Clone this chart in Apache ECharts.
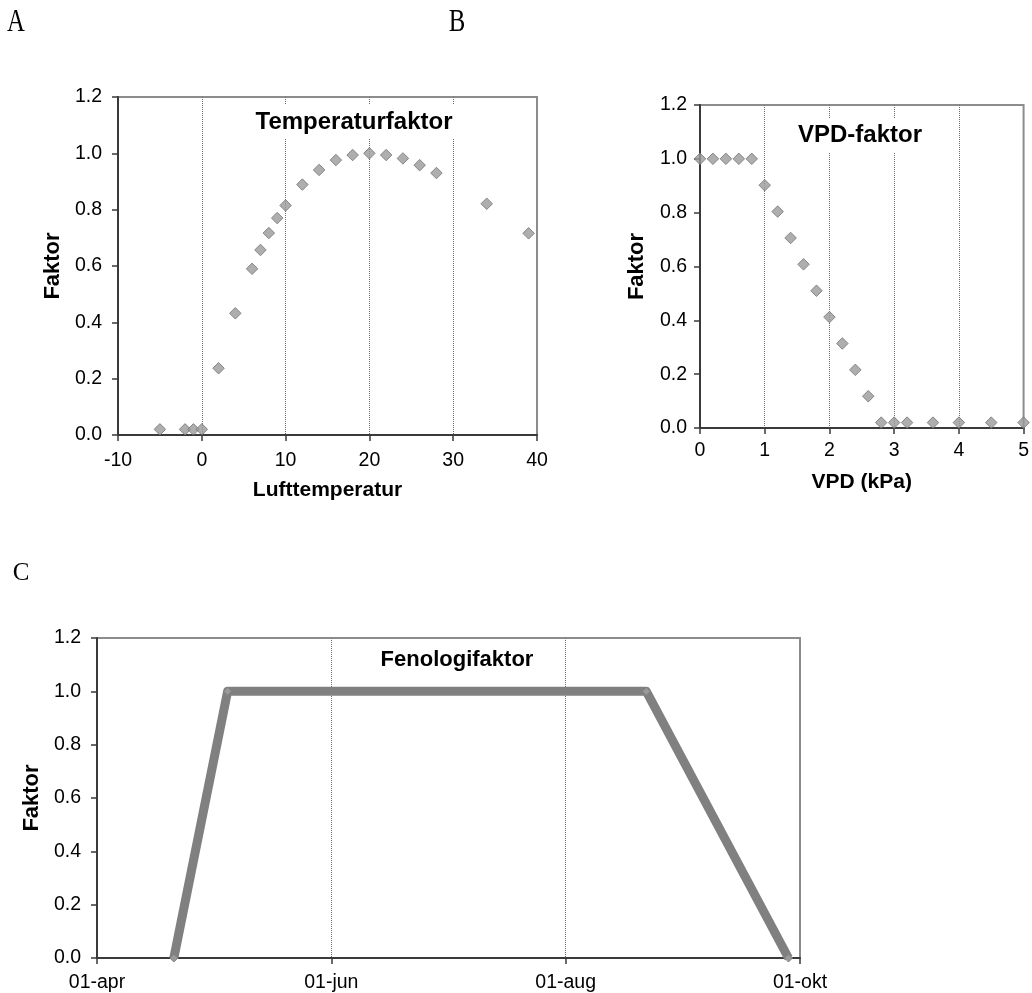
<!DOCTYPE html>
<html>
<head>
<meta charset="utf-8">
<script src="https://cdn.jsdelivr.net/npm/echarts@6/dist/echarts.min.js"></script>
<style>
html,body{margin:0;padding:0;background:#fff;}
#chart{width:1032px;height:993px;}
</style>
</head>
<body>
<div id="chart"></div>
<script>
// ---- Data ----
var tempX = [-5, -2, -1, 0, 2, 4, 6, 7, 8, 9, 10, 12, 14, 16, 18, 20, 22, 24, 26, 28, 34, 39];
var tempY = [0.02, 0.02, 0.02, 0.02, 0.237, 0.432, 0.59, 0.657, 0.717, 0.77, 0.815, 0.889, 0.941, 0.976, 0.994, 1.0, 0.994, 0.982, 0.958, 0.93, 0.821, 0.716];

var vpdX = [0, 0.2, 0.4, 0.6, 0.8, 1.0, 1.2, 1.4, 1.6, 1.8, 2.0, 2.2, 2.4, 2.6, 2.8, 3.0, 3.2, 3.6, 4.0, 4.5, 5.0];
var vpdY = [1, 1, 1, 1, 1, 0.902, 0.804, 0.706, 0.608, 0.51, 0.412, 0.314, 0.216, 0.118, 0.02, 0.02, 0.02, 0.02, 0.02, 0.02, 0.02];

var seasonStart = '04-01';
var phenoDates = ['04-21', '05-05', '08-22', '09-28'];
var phenoY = [0, 1, 1, 0];
var phenoTickDates = ['04-01', '06-01', '08-01', '10-01'];
var phenoTickLabels = ['01-apr', '01-jun', '01-aug', '01-okt'];

var titles = ['Temperaturfaktor', 'VPD-faktor', 'Fenologifaktor'];
var panelLetters = ['A', 'B', 'C'];

// ---- Helpers ----
function dayOf(md) {
  var p = md.split('-');
  var s = seasonStart.split('-');
  return Math.round((Date.UTC(2001, +p[0] - 1, +p[1]) - Date.UTC(2001, +s[0] - 1, +s[1])) / 86400000);
}
var phenoDays = phenoDates.map(dayOf);
var tickDays = phenoTickDates.map(dayOf);
var tickStep = tickDays[1] - tickDays[0];

function zip(a, b) { return a.map(function (v, i) { return [v, b[i]]; }); }

var FONT = '"Liberation Sans", Arial, Helvetica, sans-serif';
var AXIS_DARK = '#3a3a3a';
var GRID_DOT = '#6a6a6a';
var BORDER = '#8c8c8c';
var TICK_FS = 19.5;

function valAxisX(gridIndex, min, max, interval, name, nameGap, labelMargin, fmt) {
  return {
    type: 'value', gridIndex: gridIndex, min: min, max: max, interval: interval,
    name: name, nameLocation: 'middle', nameGap: nameGap,
    nameTextStyle: { fontFamily: FONT, fontSize: 21, fontWeight: 'bold', color: '#000' },
    axisLine: { show: true, onZero: false, lineStyle: { color: AXIS_DARK, width: 2 } },
    axisTick: { show: true, inside: false, length: 6, lineStyle: { color: AXIS_DARK, width: 1.5 } },
    axisLabel: { show: true, margin: labelMargin, fontFamily: FONT, fontSize: TICK_FS, color: '#000', formatter: fmt },
    splitLine: { show: true, showMinLine: false, showMaxLine: false, lineStyle: { color: GRID_DOT, width: 1, type: [1, 1] } }
  };
}
function valAxisY(gridIndex, name, nameGap, labelMargin) {
  return {
    type: 'value', gridIndex: gridIndex, min: 0, max: 1.2, interval: 0.2,
    name: name, nameLocation: 'middle', nameGap: nameGap,
    nameTextStyle: { fontFamily: FONT, fontSize: 22, fontWeight: 'bold', color: '#000' },
    axisLine: { show: true, onZero: false, lineStyle: { color: AXIS_DARK, width: 2 } },
    axisTick: { show: true, inside: false, length: 6, lineStyle: { color: AXIS_DARK, width: 1.5 } },
    axisLabel: { show: true, margin: labelMargin, fontFamily: FONT, fontSize: TICK_FS, color: '#000',
      formatter: function (v) { return v.toFixed(1); } },
    splitLine: { show: false }
  };
}

var diamond = {
  symbol: 'diamond', symbolSize: 11.5,
  itemStyle: { color: '#9a9a9a', borderColor: '#737373', borderWidth: 1 }
};

var option = {
  animation: false,
  backgroundColor: '#fff',
  grid: [
    { left: 118, top: 97, width: 419, height: 338, show: true, borderColor: BORDER, borderWidth: 2, backgroundColor: 'transparent' },
    { left: 700, top: 105, width: 324, height: 323, show: true, borderColor: BORDER, borderWidth: 2, backgroundColor: 'transparent' },
    { left: 97, top: 638, width: 703, height: 323, show: true, borderColor: BORDER, borderWidth: 2, backgroundColor: 'transparent' }
  ],
  xAxis: [
    valAxisX(0, -10, 40, 10, 'Lufttemperatur', 45, 16),
    valAxisX(1, 0, 5, 1, 'VPD (kPa)', 44, 13),
    valAxisX(2, tickDays[0], tickDays[tickDays.length - 1], tickStep, '', 0, 15, function (v) {
      var i = tickDays.indexOf(Math.round(v));
      return i >= 0 ? phenoTickLabels[i] : '';
    })
  ],
  yAxis: [
    valAxisY(0, 'Faktor', 54, 16),
    valAxisY(1, 'Faktor', 52, 13),
    valAxisY(2, 'Faktor', 46, 16)
  ],
  series: [
    Object.assign({ type: 'scatter', xAxisIndex: 0, yAxisIndex: 0, clip: false, data: zip(tempX, tempY) }, diamond),
    Object.assign({ type: 'scatter', xAxisIndex: 1, yAxisIndex: 1, clip: false, data: zip(vpdX, vpdY) }, diamond),
    {
      type: 'line', xAxisIndex: 2, yAxisIndex: 2, clip: false,
      data: zip(phenoDays, phenoY),
      symbol: 'diamond', symbolSize: 8, showSymbol: true,
      itemStyle: { color: '#9a9a9a', borderColor: '#808080', borderWidth: 1 },
      lineStyle: { color: '#808080', width: 9, join: 'round', cap: 'butt' },
      z: 3
    }
  ],
  graphic: [
    { type: 'text', z: 100, x: 354, y: 122, style: { text: titles[0], align: 'center', verticalAlign: 'middle',
      font: 'bold 24px ' + FONT, fill: '#000', backgroundColor: '#fff', padding: [5, 3] } },
    { type: 'text', z: 100, x: 860, y: 135, style: { text: titles[1], align: 'center', verticalAlign: 'middle',
      font: 'bold 24px ' + FONT, fill: '#000', backgroundColor: '#fff', padding: [5, 3] } },
    { type: 'text', z: 100, x: 457, y: 660, style: { text: titles[2], align: 'center', verticalAlign: 'middle',
      font: 'bold 22px ' + FONT, fill: '#000', backgroundColor: '#fff', padding: [4, 3] } },
    { type: 'text', z: 100, x: 16, y: 23, scaleX: 0.8, originX: 0, style: { text: panelLetters[0], align: 'center', verticalAlign: 'middle',
      font: '31px "Liberation Serif", "Times New Roman", serif', fill: '#000' } },
    { type: 'text', z: 100, x: 457, y: 23, scaleX: 0.8, style: { text: panelLetters[1], align: 'center', verticalAlign: 'middle',
      font: '31px "Liberation Serif", "Times New Roman", serif', fill: '#000' } },
    { type: 'text', z: 100, x: 21, y: 573, style: { text: panelLetters[2], align: 'center', verticalAlign: 'middle',
      font: '25px "Liberation Serif", "Times New Roman", serif', fill: '#000' } }
  ]
};

var chart = echarts.init(document.getElementById('chart'), null, { renderer: 'canvas', width: 1032, height: 993 });
chart.setOption(option);
</script>
</body>
</html>
